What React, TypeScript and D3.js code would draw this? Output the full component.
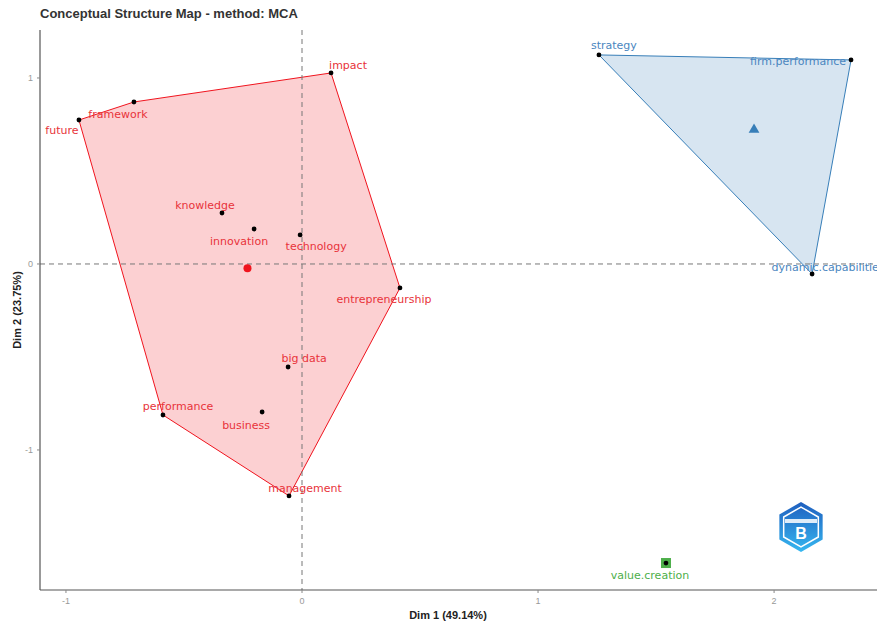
import React from "react";
import * as d3 from "d3";

const W = 877;
const H = 626;

const title = "Conceptual Structure Map - method: MCA";
const xLabel = "Dim 1 (49.14%)";
const yLabel = "Dim 2 (23.75%)";

const xTicks = [-1, 0, 1, 2];
const yTicks = [-1, 0, 1];

// words: name, dim1, dim2, cluster
const words = ["impact", "framework", "future", "knowledge", "innovation", "technology", "entrepreneurship", "big data", "business", "performance", "management", "strategy", "firm.performance", "dynamic.capabilities", "value.creation"];
const dim1 = [0.123, -0.712, -0.945, -0.339, -0.203, -0.008, 0.415, -0.059, -0.169, -0.589, -0.055, 1.258, 2.326, 2.161, 1.542];
const dim2 = [1.027, 0.871, 0.774, 0.274, 0.188, 0.156, -0.129, -0.554, -0.796, -0.812, -1.247, 1.124, 1.097, -0.054, -1.608];
const cluster = [1, 1, 1, 1, 1, 1, 1, 1, 1, 1, 1, 2, 2, 2, 3];

// label nudges (pixels) – layout, from repel placement
const labelDx = [17, -16, -17, -17, -15, 16, -16, 16, -16, 15, 16, 15, -53, 16, -16];
const labelDy = [-7, 13, 10, -8, 12, 12, 12, -9, 13, -8, -7, -9, 2, -7, 12];

const clusterColors = ["#F0141E", "#377EB8", "#4DAF4A"];
const labelColors = ["#E8333A", "#4A86C0", "#4DAF4A"];

export default function App() {
  const margin = { left: 40, right: 0, top: 30, bottom: 36 };
  const x = d3.scaleLinear().domain([-1.11, 2.436]).range([margin.left, W]);
  const y = d3.scaleLinear().domain([-1.753, 1.258]).range([H - margin.bottom, margin.top]);

  const pts = words.map((w, i) => ({ w, x: dim1[i], y: dim2[i], c: cluster[i], i }));
  const clusters = [1, 2, 3];

  const font = "'DejaVu Sans', Verdana, sans-serif";
  const axisFont = "'Liberation Sans', Arial, sans-serif";

  return (
    <svg width={W} height={H} style={{ position: "absolute", left: 0, top: 0, background: "#fff" }}>
      <defs>
        <linearGradient id="logoGrad" x1="0" y1="0" x2="0" y2="1">
          <stop offset="0" stopColor="#1f5fbf" />
          <stop offset="1" stopColor="#36b7f0" />
        </linearGradient>
      </defs>
      <text x={40} y={18} fontFamily={axisFont} fontWeight="bold" fontSize={13} fill="#333">{title}</text>

      {/* hulls */}
      {clusters.map((c) => {
        const cp = pts.filter((p) => p.c === c).map((p) => [x(p.x), y(p.y)] as [number, number]);
        if (cp.length < 3) return null;
        const hull = d3.polygonHull(cp);
        if (!hull) return null;
        return (
          <path key={"h" + c} d={"M" + hull.map((p) => p.join(",")).join("L") + "Z"}
            fill={clusterColors[c - 1]} fillOpacity={0.2} stroke={clusterColors[c - 1]} strokeWidth={1} />
        );
      })}

      {/* reference lines */}
      <line x1={x(0)} x2={x(0)} y1={margin.top} y2={H - margin.bottom} stroke="#777" strokeDasharray="5,4" strokeWidth={1} />
      <line x1={margin.left} x2={W} y1={y(0)} y2={y(0)} stroke="#777" strokeDasharray="5,4" strokeWidth={1} />

      {/* centroids */}
      {clusters.map((c) => {
        const cp = pts.filter((p) => p.c === c);
        const cx = x(d3.mean(cp, (p) => p.x)!);
        const cy = y(d3.mean(cp, (p) => p.y)!);
        const col = clusterColors[c - 1];
        if (c === 1) return <circle key={"c" + c} cx={cx} cy={cy} r={4} fill={col} />;
        if (c === 2) return <path key={"c" + c} d={d3.symbol(d3.symbolTriangle, 50)()!} transform={`translate(${cx},${cy})`} fill={col} />;
        return <rect key={"c" + c} x={cx - 5} y={cy - 5} width={10} height={10} fill={col} />;
      })}

      {/* points */}
      {pts.map((p) => (
        <circle key={"p" + p.i} cx={x(p.x)} cy={y(p.y)} r={2.4} fill="#000" />
      ))}

      {/* labels */}
      {pts.map((p) => (
        <text key={"l" + p.i} x={x(p.x) + labelDx[p.i]} y={y(p.y) + labelDy[p.i]} textAnchor="middle" dominantBaseline="central"
          fontFamily={font} fontSize={11} fill={labelColors[p.c - 1]}>{p.w}</text>
      ))}

      {/* axes */}
      <line x1={margin.left} x2={margin.left} y1={margin.top} y2={H - margin.bottom} stroke="#555" strokeWidth={1.2} />
      <line x1={margin.left} x2={W} y1={H - margin.bottom} y2={H - margin.bottom} stroke="#555" strokeWidth={1.2} />
      {xTicks.map((t) => (
        <g key={"xt" + t}>
          <line x1={x(t)} x2={x(t)} y1={H - margin.bottom} y2={H - margin.bottom + 3} stroke="#888" />
          <text x={x(t)} y={H - margin.bottom + 14} textAnchor="middle" fontFamily={axisFont} fontSize={9} fill="#999">{t}</text>
        </g>
      ))}
      {yTicks.map((t) => (
        <g key={"yt" + t}>
          <line x1={margin.left - 3} x2={margin.left} y1={y(t)} y2={y(t)} stroke="#888" />
          <text x={margin.left - 7} y={y(t)} textAnchor="end" dominantBaseline="central" fontFamily={axisFont} fontSize={9} fill="#999">{t}</text>
        </g>
      ))}
      <text x={448} y={619} textAnchor="middle" fontFamily={axisFont} fontWeight="bold" fontSize={11} fill="#222">{xLabel}</text>
      <text transform={`translate(17,${(margin.top + H - margin.bottom) / 2}) rotate(-90)`} textAnchor="middle" dominantBaseline="central"
        fontFamily={axisFont} fontWeight="bold" fontSize={11} fill="#222">{yLabel}</text>

      {/* logo */}
      <g transform="translate(801,527)">
        <path d={d3.range(6).map((k) => { const a = Math.PI / 6 + k * Math.PI / 3; return (k ? "L" : "M") + 25 * Math.cos(a) + "," + 25 * Math.sin(a); }).join("") + "Z"} fill="url(#logoGrad)" />
        <path d={d3.range(6).map((k) => { const a = Math.PI / 6 + k * Math.PI / 3; return (k ? "L" : "M") + 20 * Math.cos(a) + "," + 20 * Math.sin(a); }).join("") + "Z"} fill="none" stroke="#fff" strokeWidth={1.5} />
        <rect x={-16} y={-8} width={32} height={4} fill="#fff" opacity={0.85} />
        <text x={0} y={12} textAnchor="middle" fontFamily={axisFont} fontWeight="bold" fontSize={16} fill="#fff">B</text>
      </g>
    </svg>
  );
}
